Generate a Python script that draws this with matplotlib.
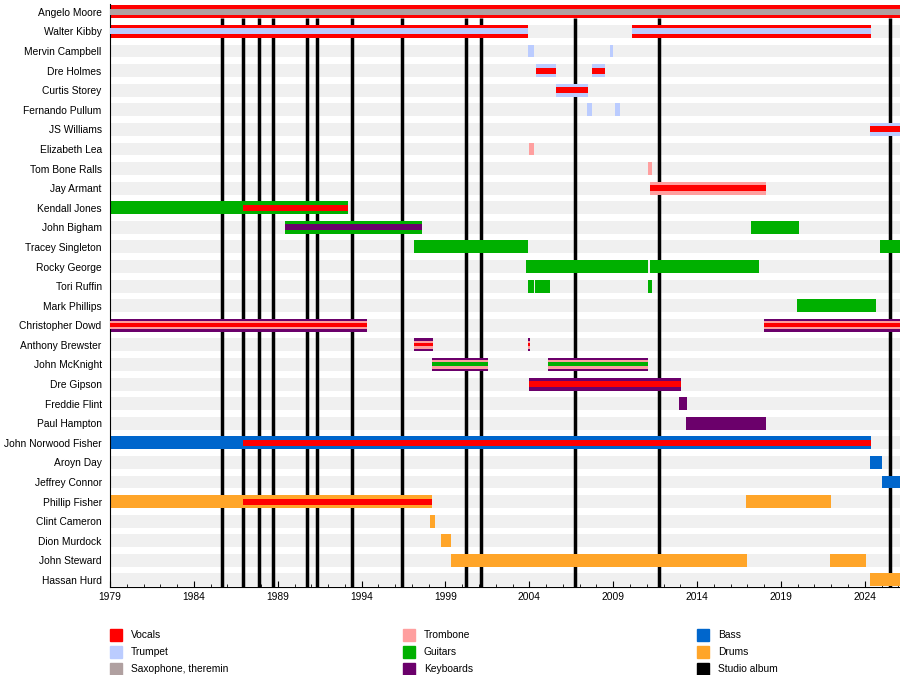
import matplotlib
matplotlib.use("Agg")
import matplotlib.pyplot as plt
from matplotlib.patches import Rectangle

END = 2026.1
colors = {"Vocals": "#ff0000", "Trumpet": "#bbccff", "Saxophone, theremin": "#b0a0a0",
          "Trombone": "#ff9f9f", "Guitars": "#00b000", "Keyboards": "#6b006b",
          "Bass": "#0066cc", "Drums": "#ffa529", "Studio album": "#000000"}

members = ["Angelo Moore", "Walter Kibby", "Mervin Campbell", "Dre Holmes", "Curtis Storey",
           "Fernando Pullum", "JS Williams", "Elizabeth Lea", "Tom Bone Ralls", "Jay Armant",
           "Kendall Jones", "John Bigham", "Tracey Singleton", "Rocky George", "Tori Ruffin",
           "Mark Phillips", "Christopher Dowd", "Anthony Brewster", "John McKnight", "Dre Gipson",
           "Freddie Flint", "Paul Hampton", "John Norwood Fisher", "Aroyn Day", "Jeffrey Connor",
           "Phillip Fisher", "Clint Cameron", "Dion Murdock", "John Steward", "Hassan Hurd"]

# (member, start, end, main instrument, [secondary stripes])
spans = [
    ("Angelo Moore", 1979, END, "Vocals", ["Saxophone, theremin"]),
    ("Walter Kibby", 1979, 2003.9, "Vocals", ["Trumpet"]),
    ("Walter Kibby", 2010.1, 2024.35, "Vocals", ["Trumpet"]),
    ("Mervin Campbell", 2003.9, 2004.3, "Trumpet", []),
    ("Mervin Campbell", 2008.8, 2009.0, "Trumpet", []),
    ("Dre Holmes", 2004.4, 2005.6, "Trumpet", ["Vocals"]),
    ("Dre Holmes", 2007.75, 2008.5, "Trumpet", ["Vocals"]),
    ("Curtis Storey", 2005.6, 2007.5, "Trumpet", ["Vocals"]),
    ("Fernando Pullum", 2007.45, 2007.75, "Trumpet", []),
    ("Fernando Pullum", 2009.1, 2009.4, "Trumpet", []),
    ("JS Williams", 2024.3, END, "Trumpet", ["Vocals"]),
    ("Elizabeth Lea", 2004.0, 2004.3, "Trombone", []),
    ("Tom Bone Ralls", 2011.05, 2011.3, "Trombone", []),
    ("Jay Armant", 2011.2, 2018.1, "Trombone", ["Vocals"]),
    ("Kendall Jones", 1979, 1986.9, "Guitars", []),
    ("Kendall Jones", 1986.9, 1993.2, "Guitars", ["Vocals"]),
    ("John Bigham", 1989.45, 1997.6, "Guitars", ["Keyboards"]),
    ("John Bigham", 2017.2, 2020.05, "Guitars", []),
    ("Tracey Singleton", 1997.15, 2003.9, "Guitars", []),
    ("Tracey Singleton", 2024.9, END, "Guitars", []),
    ("Rocky George", 2003.8, 2011.05, "Guitars", []),
    ("Rocky George", 2011.2, 2017.7, "Guitars", []),
    ("Tori Ruffin", 2003.9, 2004.25, "Guitars", []),
    ("Tori Ruffin", 2004.35, 2005.25, "Guitars", []),
    ("Tori Ruffin", 2011.05, 2011.3, "Guitars", []),
    ("Mark Phillips", 2019.95, 2024.65, "Guitars", []),
    ("Christopher Dowd", 1979, 1994.35, "Keyboards", ["Trombone", "Vocals"]),
    ("Christopher Dowd", 2018.0, END, "Keyboards", ["Trombone", "Vocals"]),
    ("Anthony Brewster", 1997.15, 1998.25, "Keyboards", ["Trombone", "Vocals"]),
    ("Anthony Brewster", 2003.9, 2004.05, "Keyboards", ["Trombone", "Vocals"]),
    ("John McKnight", 1998.2, 2001.55, "Keyboards", ["Trombone", "Guitars"]),
    ("John McKnight", 2005.1, 2011.05, "Keyboards", ["Trombone", "Guitars"]),
    ("Dre Gipson", 2004.0, 2013.05, "Keyboards", ["Vocals"]),
    ("Freddie Flint", 2012.95, 2013.4, "Keyboards", []),
    ("Paul Hampton", 2013.35, 2018.1, "Keyboards", []),
    ("John Norwood Fisher", 1979, 1986.9, "Bass", []),
    ("John Norwood Fisher", 1986.9, 2024.35, "Bass", ["Vocals"]),
    ("Aroyn Day", 2024.3, 2025.05, "Bass", []),
    ("Jeffrey Connor", 2025.0, END, "Bass", []),
    ("Phillip Fisher", 1979, 1986.9, "Drums", []),
    ("Phillip Fisher", 1986.9, 1998.2, "Drums", ["Vocals"]),
    ("Phillip Fisher", 2016.9, 2022.0, "Drums", []),
    ("Clint Cameron", 1998.1, 1998.4, "Drums", []),
    ("Dion Murdock", 1998.75, 1999.35, "Drums", []),
    ("John Steward", 1999.35, 2016.95, "Drums", []),
    ("John Steward", 2021.9, 2024.1, "Drums", []),
    ("Hassan Hurd", 2024.3, END, "Drums", []),
]

albums = [1985.68, 1986.9, 1987.9, 1988.7, 1990.75, 1991.35, 1993.4, 1996.4,
          2000.2, 2001.1, 2006.75, 2011.75, 2025.5]

fig = plt.figure(figsize=(9, 6.75), dpi=100)
ax = fig.add_axes([110/900, (675-587)/675, 790/900, (587-4)/675])
ax.set_xlim(1979, END)
ax.set_ylim(len(members) - 1 + 0.36, -0.4)

H = 0.66
for i in range(len(members)):
    ax.add_patch(Rectangle((1979, i - H/2), END - 1979, H, color="#f0f0f0", lw=0, zorder=0))

for a in albums:
    ax.vlines(a, 0.33, len(members), color="black", lw=2.5, zorder=1)

for name, s, e, main, sec in spans:
    y = members.index(name)
    ax.add_patch(Rectangle((s, y - H/2), e - s, H, color=colors[main], lw=0, zorder=2))
    if len(sec) == 1:
        ax.add_patch(Rectangle((s, y - 0.15), e - s, 0.30, color=colors[sec[0]], lw=0, zorder=3))
    elif len(sec) == 2:
        ax.add_patch(Rectangle((s, y - 0.21), e - s, 0.42, color=colors[sec[0]], lw=0, zorder=3))
        ax.add_patch(Rectangle((s, y - 0.12), e - s, 0.20, color=colors[sec[1]], lw=0, zorder=4))

ax.set_yticks(range(len(members)))
ax.set_yticklabels(members, fontsize=7.4, family="Liberation Sans")
ax.tick_params(axis="y", length=0, pad=6)
ax.set_xticks(range(1979, 2026, 5))
ax.set_xticks(range(1979, 2027), minor=True)
ax.tick_params(axis="x", which="both", direction="in", labelsize=7.4, length=4)
ax.tick_params(axis="x", which="minor", length=2)
for lbl in ax.get_xticklabels():
    lbl.set_family("Liberation Sans")
for sp in ["top", "right"]:
    ax.spines[sp].set_visible(False)

legend = [("Vocals", 110, 635), ("Trumpet", 110, 652), ("Saxophone, theremin", 110, 669),
          ("Trombone", 403, 635), ("Guitars", 403, 652), ("Keyboards", 403, 669),
          ("Bass", 697, 635), ("Drums", 697, 652), ("Studio album", 697, 669)]
for lab, x, y in legend:
    fig.patches.append(Rectangle((x/900, (675-y-6)/675), 12/900, 12/675,
                                 color=colors[lab], transform=fig.transFigure, figure=fig))
    fig.text((x+21)/900, (675-y)/675, lab, fontsize=7.4, va="center", family="Liberation Sans")

fig.savefig("out.png", dpi=100)
